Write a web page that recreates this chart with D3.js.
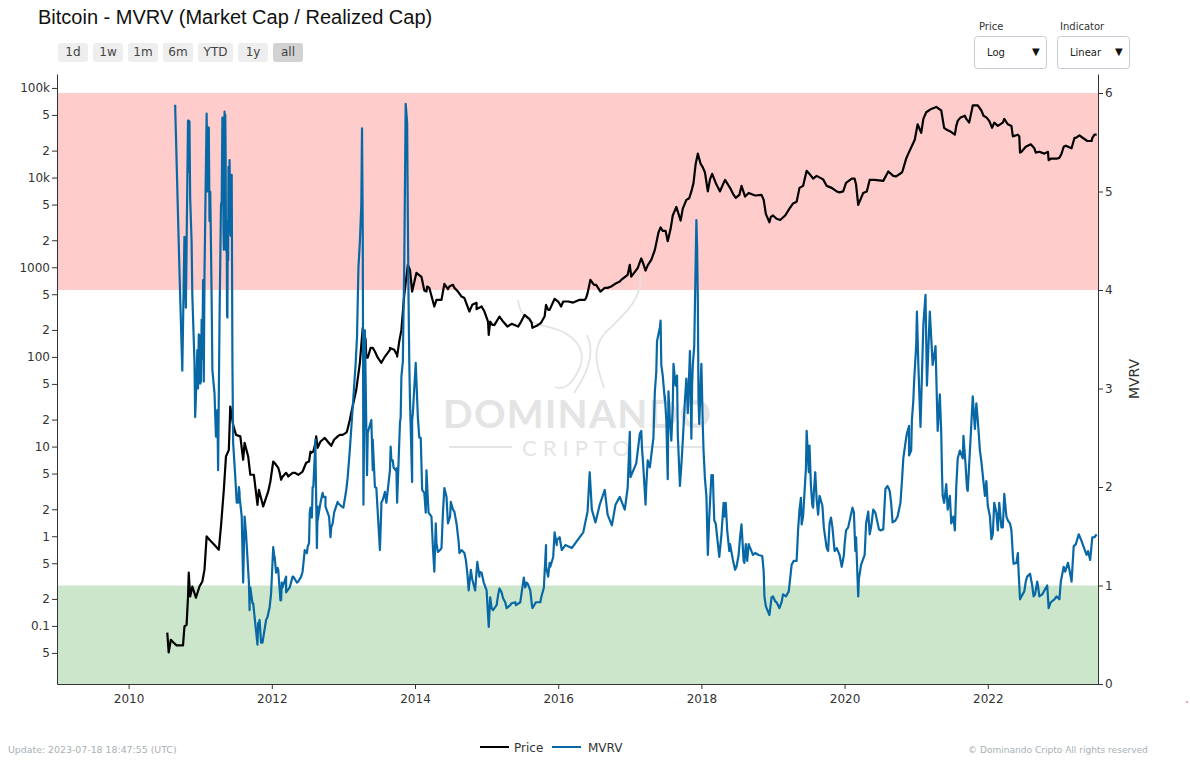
<!DOCTYPE html>
<html><head><meta charset="utf-8">
<script src="https://cdn.jsdelivr.net/npm/d3@7"></script>
<style>html,body{margin:0;padding:0;background:#fff;overflow:hidden}svg{display:block}text{font-family:"DejaVu Sans",Verdana,sans-serif}</style>
</head><body><svg id="c" width="1190" height="762"></svg>
<script>
const title="Bitcoin - MVRV (Market Cap / Realized Cap)";
const rangeButtons=["1d","1w","1m","6m","YTD","1y","all"];
const priceTicks=[100000,50000,20000,10000,5000,2000,1000,500,200,100,50,20,10,5,2,1,0.5,0.2,0.1,0.05];
const priceTickLabels=["100k","5","2","10k","5","2","1000","5","2","100","5","2","10","5","2","1","5","2","0.1","5"];
const mvrvTicks=[0,1,2,3,4,5,6];
const yearTicks=[2010,2012,2014,2016,2018,2020,2022];
const lowBand=[0,1], highBand=[4,6];
const priceYears=[2010.54,2010.56,2010.59,2010.63,2010.67,2010.76,2010.78,2010.81,2010.83,2010.84,2010.86,2010.89,2010.94,2010.99,2011.03,2011.06,2011.09,2011.13,2011.20,2011.26,2011.29,2011.33,2011.36,2011.40,2011.42,2011.46,2011.50,2011.56,2011.60,2011.62,2011.67,2011.70,2011.75,2011.80,2011.82,2011.88,2011.95,2011.98,2012.02,2012.09,2012.13,2012.20,2012.23,2012.32,2012.43,2012.48,2012.55,2012.62,2012.64,2012.74,2012.83,2012.95,2013.04,2013.11,2013.18,2013.23,2013.27,2013.31,2013.34,2013.41,2013.53,2013.65,2013.75,2013.81,2013.85,2013.90,2013.93,2013.96,2014.02,2014.09,2014.16,2014.20,2014.27,2014.32,2014.41,2014.48,2014.55,2014.65,2014.76,2014.86,2014.97,2015.03,2015.05,2015.11,2015.18,2015.29,2015.44,2015.53,2015.63,2015.64,2015.76,2015.83,2015.86,2015.95,2016.04,2016.14,2016.30,2016.39,2016.45,2016.53,2016.59,2016.69,2016.86,2017.00,2017.02,2017.16,2017.22,2017.30,2017.43,2017.53,2017.57,2017.65,2017.71,2017.86,2017.95,2018.02,2018.09,2018.15,2018.26,2018.33,2018.48,2018.56,2018.61,2018.84,2018.90,2018.95,2019.00,2019.10,2019.23,2019.33,2019.37,2019.47,2019.56,2019.70,2019.82,2019.93,2020.10,2020.16,2020.19,2020.26,2020.35,2020.54,2020.61,2020.72,2020.81,2020.89,2021.02,2021.07,2021.14,2021.28,2021.35,2021.39,2021.54,2021.58,2021.68,2021.74,2021.79,2021.86,2021.98,2022.06,2022.23,2022.33,2022.35,2022.42,2022.45,2022.60,2022.67,2022.84,2022.85,2023.00,2023.06,2023.17,2023.21,2023.28,2023.45,2023.49,2023.52];
const priceValues=[0.084,0.0507,0.070,0.065,0.0607,0.0607,0.0986,0.103,0.213,0.392,0.213,0.275,0.206,0.275,0.313,0.424,0.995,0.914,0.80,0.708,1.285,3.30,7.76,9.2,28,17.5,13.5,13,7.13,11,7.76,4.85,4.85,2.24,3.30,2.15,3.16,4.08,6.82,5.8,4.27,5.1,4.64,5.1,5.27,6.6,8.53,13,9.7,12.5,10.2,13.5,14.3,23.8,43,86,211,155,98,126,86,120,105,200,492,1064,935,536,867,782,536,589,365,433,653,610,589,471,321,401,321,176,248,228,282,218,218,294,240,211,240,381,335,445,365,415,433,456,724,637,536,589,693,1064,787,1253,919,1208,2780,1950,2680,4710,3310,7010,18500,13000,7010,11000,7010,9420,5940,8080,6140,6410,3940,3170,3780,3370,4510,5380,7680,11900,9720,9550,7680,6840,9720,8370,4960,6750,9420,9190,11700,10300,11900,18500,39300,31500,53500,61400,56000,35900,30100,42900,49000,41000,63800,63800,46900,35900,45100,37700,28800,30100,19000,23500,19000,19400,15600,16600,22100,21200,27700,29600,25600,30100,30100];
const priceDetailYears=[2012.06,2012.11,2012.15,2012.22,2012.29,2012.37,2012.52,2012.54,2012.58,2012.61,2012.68,2012.78,2012.87,2012.92,2012.99,2013.05,2013.09,2013.32,2013.38,2013.44,2013.48,2013.58,2013.65,2013.71,2013.75,2013.78,2014.13,2014.17,2014.22,2014.30,2014.37,2014.46,2014.53,2014.60,2014.69,2014.80,2014.86,2014.93,2015.02,2015.08,2015.23,2015.35,2015.47,2015.60,2015.70,2015.81,2015.88,2016.00,2016.07,2016.21,2016.37,2016.41,2016.50,2016.65,2016.74,2016.81,2016.88,2016.97,2017.11,2017.18,2017.25,2017.35,2017.40,2017.46,2017.50,2017.60,2017.74,2017.79,2017.83,2017.89,2017.92,2017.99,2018.05,2018.12,2018.20,2018.28,2018.40,2018.45,2018.53,2018.66,2018.75,2018.87,2018.97,2019.05,2019.17,2019.28,2019.42,2019.51,2019.61,2019.75,2019.89,2019.98,2020.02,2020.14,2020.31,2020.42,2020.68,2020.80,2020.86,2020.98,2021.10,2021.21,2021.42,2021.47,2021.56,2021.62,2021.70,2021.91,2021.94,2022.02,2022.09,2022.14,2022.21,2022.28,2022.44,2022.47,2022.53,2022.65,2022.72,2022.79,2022.88,2022.97,2023.03,2023.09,2023.23,2023.32,2023.39,2023.46];
const priceDetailValues=[6.27,5.1,4.6,4.85,5.1,4.85,6.82,8.8,8.8,11,11.4,11.4,11.9,13,13.5,14.7,19.9,98,126,115,98,101,126,120,101,149,550,610,514,433,433,570,637,536,453,381,341,365,248,228,248,234,238,264,222,282,335,415,415,404,433,514,637,589,610,665,724,822,977,1148,1050,1563,2430,2547,2547,3780,4510,5640,5880,8730,14200,14200,11400,9550,8730,7680,7680,6410,6410,6750,6310,5640,3650,3470,3780,5150,8080,11000,10450,8080,7010,7010,8730,9720,7010,9420,10450,11400,16300,26400,45100,58300,34400,32900,37700,46900,45100,56000,49000,42900,41000,37700,41000,39300,28800,19400,22100,21200,19400,18500,16300,16300,18500,22700,27700,28000,25600,27700];
const mvrvYears=[2010.65,2010.71,2010.75,2010.78,2010.80,2010.83,2010.85,2010.86,2010.88,2010.89,2010.92,2010.93,2010.95,2010.96,2010.99,2011.01,2011.02,2011.04,2011.05,2011.06,2011.09,2011.12,2011.15,2011.16,2011.17,2011.20,2011.22,2011.24,2011.25,2011.27,2011.29,2011.31,2011.33,2011.34,2011.35,2011.37,2011.38,2011.40,2011.41,2011.42,2011.44,2011.45,2011.46,2011.49,2011.51,2011.54,2011.55,2011.58,2011.60,2011.62,2011.64,2011.68,2011.69,2011.70,2011.73,2011.76,2011.80,2011.82,2011.85,2011.87,2011.94,2011.99,2012.02,2012.04,2012.06,2012.08,2012.12,2012.14,2012.20,2012.22,2012.29,2012.35,2012.41,2012.46,2012.50,2012.53,2012.57,2012.61,2012.63,2012.64,2012.71,2012.75,2012.78,2012.82,2012.85,2012.92,2013.00,2013.04,2013.09,2013.13,2013.17,2013.19,2013.21,2013.23,2013.25,2013.26,2013.27,2013.28,2013.30,2013.33,2013.34,2013.39,2013.41,2013.44,2013.51,2013.53,2013.58,2013.66,2013.69,2013.73,2013.75,2013.79,2013.83,2013.85,2013.87,2013.89,2013.90,2013.91,2013.92,2013.93,2013.96,2013.97,2014.01,2014.06,2014.10,2014.15,2014.16,2014.23,2014.27,2014.29,2014.32,2014.37,2014.41,2014.46,2014.50,2014.55,2014.62,2014.69,2014.75,2014.78,2014.84,2014.87,2014.90,2014.93,2015.00,2015.03,2015.05,2015.09,2015.14,2015.18,2015.23,2015.28,2015.35,2015.41,2015.48,2015.52,2015.54,2015.58,2015.64,2015.69,2015.76,2015.80,2015.83,2015.86,2015.89,2015.95,2015.98,2016.02,2016.05,2016.10,2016.19,2016.27,2016.35,2016.41,2016.44,2016.47,2016.52,2016.58,2016.65,2016.69,2016.75,2016.80,2016.86,2016.93,2016.97,2017.00,2017.01,2017.09,2017.14,2017.16,2017.22,2017.25,2017.30,2017.35,2017.38,2017.43,2017.46,2017.49,2017.53,2017.54,2017.58,2017.61,2017.66,2017.70,2017.74,2017.79,2017.81,2017.84,2017.86,2017.90,2017.93,2017.94,2017.95,2017.97,2018.00,2018.02,2018.05,2018.09,2018.14,2018.16,2018.18,2018.25,2018.31,2018.34,2018.40,2018.47,2018.52,2018.56,2018.60,2018.66,2018.72,2018.85,2018.90,2018.95,2019.00,2019.09,2019.14,2019.22,2019.26,2019.33,2019.37,2019.40,2019.47,2019.51,2019.56,2019.59,2019.63,2019.69,2019.75,2019.81,2019.86,2019.93,2019.99,2020.02,2020.11,2020.16,2020.19,2020.23,2020.28,2020.33,2020.35,2020.40,2020.48,2020.54,2020.57,2020.63,2020.67,2020.74,2020.80,2020.86,2020.90,2020.93,2020.96,2021.00,2021.01,2021.06,2021.10,2021.13,2021.15,2021.19,2021.23,2021.27,2021.30,2021.33,2021.37,2021.42,2021.49,2021.54,2021.58,2021.66,2021.72,2021.79,2021.82,2021.84,2021.89,2021.96,2021.98,2022.05,2022.09,2022.14,2022.16,2022.19,2022.23,2022.28,2022.33,2022.36,2022.42,2022.45,2022.51,2022.59,2022.64,2022.69,2022.72,2022.83,2022.85,2022.96,2023.00,2023.06,2023.12,2023.17,2023.20,2023.27,2023.35,2023.43,2023.46,2023.52];
const mvrvValues=[5.88,4.20,3.18,4.54,3.82,5.72,5.71,4.93,4.49,3.95,3.27,2.71,3.12,3.39,3.54,3.07,3.70,4.10,3.07,4.17,5.79,5.65,4.48,3.90,3.19,2.95,2.51,2.78,2.17,3.70,4.86,5.75,4.41,5.81,5.78,4.61,3.72,5.22,5.32,4.63,5.17,3.27,2.45,2.10,1.84,2.00,1.94,1.70,1.03,1.70,1.53,1.03,0.75,0.98,0.82,0.68,0.40,0.62,0.42,0.42,0.68,0.92,1.39,1.26,1.13,1.18,0.85,1.03,1.09,0.95,1.09,1.03,1.09,1.36,1.39,1.74,2.00,2.48,1.38,1.80,1.94,1.90,1.74,1.49,1.63,1.85,1.79,1.97,2.38,2.81,3.24,3.52,4.23,4.49,4.86,5.64,4.63,1.82,3.59,2.12,2.55,2.68,2.17,2.00,1.36,1.80,1.95,2.41,2.27,2.17,1.84,2.65,3.27,4.28,5.89,5.70,4.73,3.90,3.27,2.88,2.05,2.75,3.26,2.50,1.97,1.74,2.17,1.70,1.14,1.63,1.34,1.38,1.99,1.63,1.85,1.75,1.33,1.33,0.95,1.16,0.95,1.24,1.09,1.13,0.95,0.58,0.88,0.75,0.80,0.97,0.87,0.77,0.82,0.80,0.88,1.08,0.98,1.01,0.77,0.83,0.87,0.98,1.41,1.09,1.19,1.54,1.41,1.49,1.36,1.41,1.38,1.46,1.54,1.75,2.15,1.77,1.64,1.82,1.97,1.72,1.61,1.82,1.90,1.77,1.99,2.56,2.10,2.24,2.54,2.57,1.82,2.27,2.32,2.97,3.48,3.69,3.13,2.88,2.08,2.97,2.47,3.25,3.13,2.01,2.47,3.10,2.75,3.38,2.49,3.43,4.71,4.43,3.90,2.64,3.25,2.61,2.08,1.31,2.12,2.12,1.66,1.29,1.84,1.84,1.42,1.16,1.31,1.62,1.23,1.42,1.31,1.30,0.79,0.70,0.89,0.77,0.91,0.94,1.21,1.25,1.77,1.62,2.57,2.42,1.79,2.15,1.72,1.81,1.38,1.69,1.35,1.31,1.31,1.56,1.79,1.49,0.89,1.21,1.31,1.75,1.52,1.77,1.57,1.57,1.98,1.96,1.64,1.70,2.05,2.50,2.62,2.37,2.88,3.44,3.78,2.61,3.65,3.95,3.03,3.78,3.24,3.43,2.57,2.94,1.91,2.03,1.63,1.56,2.29,2.52,1.96,2.92,2.59,2.85,2.37,1.91,2.06,1.47,1.84,1.56,1.84,1.59,1.93,1.66,1.56,1.22,1.33,0.86,0.94,1.12,0.89,1.04,0.89,1.00,0.77,0.89,0.86,1.19,1.23,1.04,1.40,1.52,1.37,1.26,1.49,1.52];
const mvrvDetailYears=[2010.835,2010.84,2010.97,2010.98,2011.00,2011.03,2011.10,2011.11,2011.13,2011.14,2011.30,2011.32,2011.325,2011.335,2011.345,2011.355,2011.36,2011.375,2011.385,2011.39,2011.395,2011.405,2011.415,2011.425,2011.435,2011.438,2011.53,2011.55,2011.69,2011.74,2011.81,2011.83,2011.92,2011.97,2012.04,2012.09,2012.13,2012.15,2012.20,2012.25,2012.30,2012.37,2012.43,2012.49,2012.52,2012.54,2012.56,2012.58,2012.61,2012.64,2012.68,2012.72,2012.75,2012.80,2012.83,2012.87,2012.92,2012.98,2013.06,2013.41,2013.46,2013.53,2013.55,2013.60,2013.65,2013.67,2013.70,2013.74,2013.80,2013.81,2013.96,2014.04,2014.08,2014.13,2014.18,2014.19,2014.25,2014.30,2014.35,2014.39,2014.44,2014.49,2014.53,2014.58,2014.61,2014.65,2014.71,2014.73,2014.80,2014.90,2014.96,2015.07,2015.11,2015.16,2015.21,2015.26,2015.33,2015.40,2015.47,2015.56,2015.61,2015.63,2015.68,2015.75,2015.83,2015.88,2015.93,2015.98,2017.17,2017.19,2017.23,2017.28,2017.33,2017.37,2017.42,2017.44,2017.49,2017.51,2017.52,2017.56,2017.60,2017.64,2017.67,2017.72,2017.77,2017.80,2017.87,2017.88,2017.96,2018.03,2018.07,2018.11,2018.17,2018.20,2018.22,2018.28,2018.32,2018.36,2018.39,2018.44,2018.49,2018.54,2018.59,2018.62,2018.64,2018.75,2018.80,2018.87,2018.88,2018.98,2019.03,2019.05,2019.12,2019.18,2019.25,2019.29,2019.35,2019.39,2019.42,2019.46,2019.50,2019.53,2019.55,2019.57,2019.61,2019.65,2019.71,2019.77,2019.79,2019.83,2019.89,2019.96,2020.00,2020.05,2020.13,2020.15,2020.20,2020.30,2020.37,2020.43,2020.50,2020.60,2020.65,2020.71,2020.78,2020.82,2020.87,2020.90,2020.94,2020.97,2021.03,2021.35,2021.36,2021.39,2021.44,2021.47,2021.52,2021.56,2021.61,2021.65,2021.69,2021.71,2021.76,2021.86,2021.91,2021.94,2022.00,2022.03,2022.07,2022.12,2022.21,2022.26,2022.31,2022.35,2022.40,2022.43,2022.47,2022.53,2022.55,2022.62,2022.66,2022.70,2022.76,2022.88,2022.93,2023.02,2023.08,2023.14,2023.23,2023.31,2023.38,2023.40,2023.49];
const mvrvDetailValues=[5.2,5.72,3.0,3.55,3.05,3.3,5.0,5.5,4.7,5.0,4.9,5.3,4.6,5.5,4.8,5.4,4.4,3.75,4.7,4.3,5.25,4.6,5.1,4.55,4.9,4.6,1.84,1.90,0.82,0.82,0.62,0.65,0.65,0.78,1.29,1.16,0.85,0.98,0.93,0.98,1.09,1.04,1.14,1.33,1.43,1.79,1.69,2.00,2.35,1.66,1.84,1.90,1.80,1.70,1.59,1.74,1.84,1.80,2.10,2.48,1.99,1.84,1.87,1.84,2.17,2.27,2.20,2.19,2.71,3.12,2.68,2.71,2.50,1.94,1.87,1.74,1.39,1.43,1.36,1.74,1.90,1.70,1.77,1.63,1.44,1.36,1.26,1.13,1.06,1.14,1.03,0.77,0.77,0.90,0.93,0.83,0.80,0.83,0.83,1.03,0.95,0.82,0.82,0.83,1.19,1.23,1.29,1.46,2.40,2.19,2.01,2.20,2.50,3.17,3.62,3.24,2.92,2.68,2.37,2.68,2.82,3.03,2.54,2.22,2.88,2.95,3.03,3.24,2.88,2.37,1.91,1.70,1.87,1.63,1.49,1.52,1.70,1.56,1.35,1.26,1.19,1.49,1.25,1.42,1.25,1.33,1.31,1.14,0.89,0.88,0.84,0.83,0.83,0.89,1.14,1.25,1.56,1.89,1.70,2.19,2.15,2.01,1.81,1.94,1.87,1.91,1.59,1.35,1.63,1.59,1.38,1.19,1.42,1.59,1.74,1.35,1.07,1.63,1.59,1.74,1.56,2.01,1.84,1.66,1.84,2.29,2.54,2.32,2.68,3.06,3.24,2.54,2.15,1.84,1.77,1.91,1.70,2.01,2.37,2.29,2.22,1.98,2.50,2.68,2.26,2.05,1.81,1.70,1.52,1.74,1.59,1.70,1.63,1.31,1.23,1.14,0.89,1.04,1.09,1.00,0.91,1.00,0.91,0.83,0.86,1.04,1.14,1.16,1.42,1.45,1.31,1.35,1.49];

const svg=d3.select("#c");
const L=57,R=1098,T=74,B=684;
const x=d3.scaleLinear().domain([2009,2009+(R-L)/71.6]).range([L,R]);
const yP=d3.scaleLog().domain([0.0225,143000]).range([B,T]);
const yM=d3.scaleLinear().domain([0,(B-T)/98.5]).range([B,T]);
const merged=(a,b,c,d)=>d3.zip(a,b).concat(d3.zip(c,d)).map((p,i)=>[p[0],p[1],i]).sort((p,q)=>d3.ascending(p[0],q[0])||d3.ascending(p[2],q[2]));

function band(b,c){svg.append("rect").attr("x",L).attr("width",R-L).attr("y",yM(b[1])).attr("height",yM(b[0])-yM(b[1])).attr("fill",c);}
band(highBand,"#ffcccc");band(lowBand,"#cce6cc");

// watermark
const wm=svg.append("g").attr("fill","#e3e3e3").attr("opacity",.95);
wm.append("text").attr("x",577).attr("y",428).attr("text-anchor","middle").attr("font-size",39).attr("font-weight",700).style("font-family","Lato").attr("textLength",268).attr("lengthAdjust","spacing").text("DOMINANDO");
wm.append("text").attr("x",576).attr("y",456).attr("text-anchor","middle").attr("font-size",22).style("font-family","Lato").attr("textLength",108).attr("lengthAdjust","spacing").text("CRIPTO");
wm.append("path").attr("fill","none").attr("stroke","#e3e3e3").attr("stroke-width",1.8).attr("d","M449 447H512M640 447H702M518 300C522 330 545 322 565 333C585 345 585 360 576 375C570 386 562 390 555 387M587 335C594 350 590 370 574 393M640 274C644 300 620 318 605 333C590 350 598 370 604 388");

// lines
const line=(yy)=>d3.line().x(d=>x(d[0])).y(d=>yy(d[1])).curve(d3.curveLinear);
svg.append("path").datum(merged(priceYears,priceValues,priceDetailYears,priceDetailValues)).attr("d",line(yP)).attr("fill","none").attr("stroke","#000").attr("stroke-width",2.2).attr("stroke-linejoin","round");
svg.append("path").datum(merged(mvrvYears,mvrvValues,mvrvDetailYears,mvrvDetailValues)).attr("d",line(yM)).attr("fill","none").attr("stroke","#0868a6").attr("stroke-width",2.2).attr("stroke-linejoin","round");

// axes
function style(g){g.selectAll("text").attr("fill","#333").attr("font-size",12).style("font-family","DejaVu Sans");g.selectAll("path,line").attr("stroke","#333").attr("stroke-width",1);}
svg.append("g").attr("transform",`translate(0,${B})`).call(d3.axisBottom(x).tickValues(yearTicks).tickFormat(d3.format("d")).tickSize(5).tickPadding(5).tickSizeOuter(0)).call(style);
svg.append("g").attr("transform",`translate(${L},0)`).call(d3.axisLeft(yP).tickValues(priceTicks).tickFormat((d,i)=>priceTickLabels[i]).tickSize(5).tickPadding(2).tickSizeOuter(0)).call(style);
svg.append("g").attr("transform",`translate(${R},0)`).call(d3.axisRight(yM).tickValues(mvrvTicks).tickFormat(d3.format("d")).tickSize(5).tickPadding(2).tickSizeOuter(0)).call(style);
svg.append("text").attr("transform","translate(1139,379) rotate(-90)").attr("text-anchor","middle").attr("font-size",14).attr("fill","#333").text("MVRV");

// title
svg.append("text").attr("x",38).attr("y",24).attr("font-size",20).style("font-family","Liberation Sans").attr("fill","#111").text(title);

// buttons
const btnW=[30,30,30,30,35,30,30];let bx=58;
rangeButtons.forEach((t,i)=>{
 svg.append("rect").attr("x",bx).attr("y",43).attr("width",btnW[i]).attr("height",19).attr("rx",3).attr("fill",t==="all"?"#d2d2d2":"#eeeeee");
 svg.append("text").attr("x",bx+btnW[i]/2).attr("y",56).attr("text-anchor","middle").attr("font-size",12).attr("fill","#444").text(t);
 bx+=btnW[i]+5;
});

// dropdowns
[["Price","Log",974,987],["Indicator","Linear",1057,1070]].forEach(([lab,val,bxx,tx])=>{
 svg.append("text").attr("x",bxx+(lab==="Price"?5:3)).attr("y",30).attr("font-size",10).attr("fill","#333").text(lab);
 svg.append("rect").attr("x",bxx+.5).attr("y",36.5).attr("width",72).attr("height",32).attr("rx",3).attr("fill","#fff").attr("stroke","#c6cad2");
 svg.append("text").attr("x",tx).attr("y",56).attr("font-size",10).attr("fill","#222").text(val);
 svg.append("text").attr("x",bxx+58).attr("y",55).attr("font-size",10).attr("fill","#111").text("▼");
});

// legend
[["Price","#000",480,514],["MVRV","#0868a6",552,588]].forEach(([t,c,lx,tx])=>{
 svg.append("line").attr("x1",lx).attr("x2",lx+29).attr("y1",747).attr("y2",747).attr("stroke",c).attr("stroke-width",2);
 svg.append("text").attr("x",tx).attr("y",751.5).attr("font-size",12).attr("fill","#333").text(t);
});

// footer
svg.append("text").attr("x",8).attr("y",753).attr("font-size",9.4).attr("fill","#a8b0b4").text("Update: 2023-07-18 18:47:55 (UTC)");
svg.append("text").attr("x",968).attr("y",753).attr("font-size",9.05).attr("fill","#a8b0b4").text("© Dominando Cripto All rights reserved");
svg.append("circle").attr("cx",1187).attr("cy",702).attr("r",.8).attr("fill","#d33");
</script></body></html>
